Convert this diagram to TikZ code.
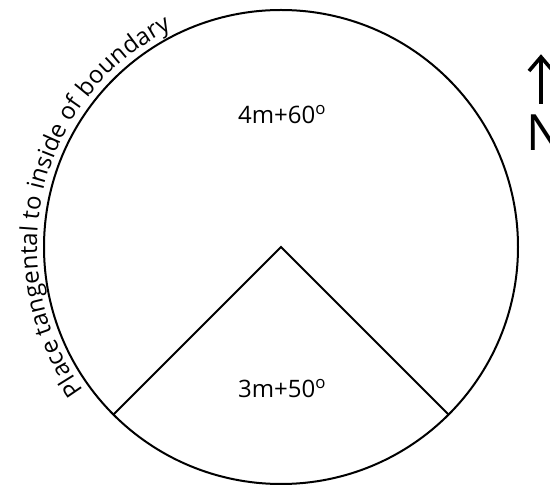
\documentclass[tikz,border=0pt]{standalone}
\usepackage{fontspec}
\setmainfont{Open Sans}
\usetikzlibrary{positioning, calc, arrows.meta, decorations.text}

\begin{document}
\begin{tikzpicture}[
  x=1pt, y=1pt,
  every node/.style={draw=none, inner sep=0pt, outer sep=0pt}, % plain text
  plot line/.style={line width=2pt},
  area label/.style={font=\fontsize{24}{28}\selectfont, anchor=base},
  north arrow/.style={line width=3.6pt, line join=miter},
]
  \useasboundingbox (0,0) rectangle (550,-486);
  \clip (0,0) rectangle (550,-486);

  % plot boundary
  \coordinate (ctr) at (281,-247);
  \draw[plot line] (ctr) circle[radius=237];

  % wedge
  \coordinate (wl) at ($(ctr)+(-135:237)$);
  \coordinate (wr) at ($(ctr)+(-45:237)$);
  \draw[plot line] (wl) -- (ctr) -- (wr);

  % labels
  \node[area label] (big) at (282,-124) {4m+60\textsuperscript{o}};
  \node[area label] (small) at (282,-398) {3m+50\textsuperscript{o}};

  %% text round the boundary
  \path[decorate, decoration={text along path, raise=4pt,
      text={|\fontsize{24}{28}\selectfont|Place tangental to inside of boundary}}]
    (ctr) ++(216:240) arc[start angle=216, end angle=100, radius=240];

  % north arrow
  \node[font=\fontsize{50}{50}\selectfont, anchor=base west] (north) at (526,-151) {N};
  \coordinate (tail) at (541,-104);
  \coordinate (tip) at (541,-57);
  \draw[north arrow] (tail) -- (tip);
  \draw[north arrow] ($(tip)+(-12,-14)$) -- (tip) -- ($(tip)+(12,-14)$);
\end{tikzpicture}
\end{document}
